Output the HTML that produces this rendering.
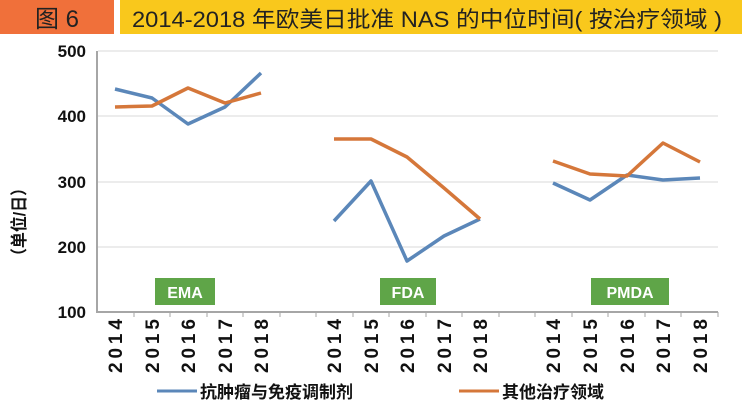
<!DOCTYPE html>
<html><head><meta charset="utf-8"><style>
body{margin:0;background:#fff;width:742px;height:410px;overflow:hidden;font-family:"Liberation Sans","Noto Sans CJK SC",sans-serif}
</style></head><body>
<svg width="742" height="410" xmlns="http://www.w3.org/2000/svg" style="position:absolute;left:0;top:0">
<rect x="0" y="0" width="114" height="34" fill="#f0703a"/>
<rect x="120" y="0" width="622" height="34" fill="#f9c81c"/>
<text x="57" y="27" text-anchor="middle" font-size="24" fill="#222" font-family="Liberation Sans,Noto Sans CJK SC,sans-serif">图 6</text>
<text x="132" y="27" font-size="22" fill="#222" font-family="Liberation Sans,Noto Sans CJK SC,sans-serif" textLength="590" lengthAdjust="spacingAndGlyphs">2014-2018 年欧美日批准 NAS 的中位时间( 按治疗领域 )</text>
<g stroke="#d9d9d9" stroke-width="1">
<line x1="98" y1="51" x2="718" y2="51"/><line x1="98" y1="116" x2="718" y2="116"/><line x1="98" y1="182" x2="718" y2="182"/><line x1="98" y1="247" x2="718" y2="247"/>
</g>
<line x1="97" y1="51" x2="97" y2="313" stroke="#a6a6a6" stroke-width="2"/>
<line x1="97" y1="312" x2="718" y2="312" stroke="#a6a6a6" stroke-width="2"/>
<g stroke="#a6a6a6" stroke-width="1">
<line x1="134" y1="312" x2="134" y2="317"/><line x1="170" y1="312" x2="170" y2="317"/><line x1="207" y1="312" x2="207" y2="317"/><line x1="243" y1="312" x2="243" y2="317"/><line x1="280" y1="312" x2="280" y2="317"/><line x1="316" y1="312" x2="316" y2="317"/><line x1="353" y1="312" x2="353" y2="317"/><line x1="389" y1="312" x2="389" y2="317"/><line x1="426" y1="312" x2="426" y2="317"/><line x1="462" y1="312" x2="462" y2="317"/><line x1="499" y1="312" x2="499" y2="317"/><line x1="535" y1="312" x2="535" y2="317"/><line x1="572" y1="312" x2="572" y2="317"/><line x1="608" y1="312" x2="608" y2="317"/><line x1="645" y1="312" x2="645" y2="317"/><line x1="681" y1="312" x2="681" y2="317"/><line x1="718" y1="312" x2="718" y2="317"/>
</g>
<g font-size="17" font-weight="bold" fill="#111" text-anchor="end">
<text x="86" y="57">500</text><text x="86" y="122">400</text><text x="86" y="188">300</text><text x="86" y="253">200</text><text x="86" y="318">100</text>
</g>
<text transform="translate(25,222) rotate(-90)" text-anchor="middle" font-size="17" font-weight="bold" fill="#111" textLength="84" lengthAdjust="spacingAndGlyphs">（单位/日）</text>
<g font-size="19" font-weight="bold" fill="#111">
<text transform="translate(122,373) rotate(-90)" textLength="54">2014</text><text transform="translate(159,373) rotate(-90)" textLength="54">2015</text><text transform="translate(195,373) rotate(-90)" textLength="54">2016</text><text transform="translate(232,373) rotate(-90)" textLength="54">2017</text><text transform="translate(268,373) rotate(-90)" textLength="54">2018</text>
<text transform="translate(341,373) rotate(-90)" textLength="54">2014</text><text transform="translate(378,373) rotate(-90)" textLength="54">2015</text><text transform="translate(414,373) rotate(-90)" textLength="54">2016</text><text transform="translate(451,373) rotate(-90)" textLength="54">2017</text><text transform="translate(487,373) rotate(-90)" textLength="54">2018</text>
<text transform="translate(560,373) rotate(-90)" textLength="54">2014</text><text transform="translate(597,373) rotate(-90)" textLength="54">2015</text><text transform="translate(634,373) rotate(-90)" textLength="54">2016</text><text transform="translate(670,373) rotate(-90)" textLength="54">2017</text><text transform="translate(707,373) rotate(-90)" textLength="54">2018</text>
</g>
<g fill="#5fa548"><rect x="155" y="278" width="60" height="27"/><rect x="380" y="278" width="56" height="27"/><rect x="591" y="278" width="78" height="27"/></g>
<g fill="#fff" font-size="16" font-weight="bold" text-anchor="middle"><text x="185" y="298">EMA</text><text x="408" y="298">FDA</text><text x="630" y="298">PMDA</text></g>
<g fill="none" stroke-width="3.5" stroke-linejoin="round">
<polyline stroke="#5b87b9" points="115,89 152,98 188,124 225,107 261,73"/>
<polyline stroke="#d5773a" points="115,107 152,106 188,88 225,103 261,93"/>
<polyline stroke="#5b87b9" points="334,221 371,181 407,261 444,236 480,219"/>
<polyline stroke="#d5773a" points="334,139 371,139 407,157 444,188 480,219"/>
<polyline stroke="#5b87b9" points="553,183 590,200 627,175 663,180 700,178"/>
<polyline stroke="#d5773a" points="553,161 590,174 627,176 663,143 700,162"/>
</g>
<line x1="157" y1="391" x2="197" y2="391" stroke="#5b87b9" stroke-width="3"/>
<text x="200" y="398" font-size="17" font-weight="bold" fill="#111">抗肿瘤与免疫调制剂</text>
<line x1="459" y1="391" x2="499" y2="391" stroke="#d5773a" stroke-width="3"/>
<text x="502" y="398" font-size="17" font-weight="bold" fill="#111">其他治疗领域</text>
</svg>
</body></html>
